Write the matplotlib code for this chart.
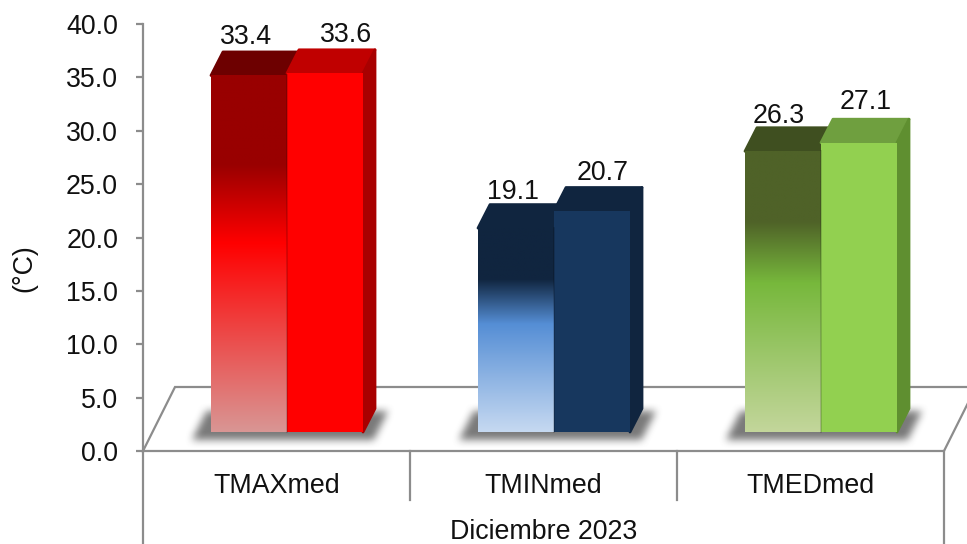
import numpy as np
import matplotlib.pyplot as plt
from matplotlib.colors import to_rgb
from matplotlib.patches import Polygon

plt.rcParams['font.family'] = ['Liberation Sans', 'DejaVu Sans']

categories = ['TMAXmed', 'TMINmed', 'TMEDmed']
group_label = 'Diciembre 2023'
values_a = [33.4, 19.1, 26.3]
values_b = [33.6, 20.7, 27.1]
yticks = [0, 5, 10, 15, 20, 25, 30, 35, 40]

# colores: inicio, medio, final del degradado de la barra izquierda
grad_colors = [('#990000', '#ff0000', '#d99694'),
               ('#10253f', '#558ed5', '#c6d9f1'),
               ('#4f6228', '#77b83c', '#c3d69b')]
top_a = ['#6d0000', '#10253f', '#3f4f20']
solid_b = ['#ff0000', '#17375e', '#92d050']
top_b = ['#c00000', '#10253f', '#6f9f3f']
side_b = ['#a80000', '#10253f', '#5f8f30']

# desplazamiento de etiquetas respecto a cada barra (px)
label_dx_a = [-3, -3, -4]
label_dx_b = [21, 11, 7]
label_dy_a = [38, 36, 35]
label_dy_b = [38, 38, 41]

fig = plt.figure(figsize=(9.67, 5.44), dpi=100)
ax = fig.add_axes([143 / 967, (544 - 451) / 544, 801 / 967, 427 / 544])
ax.set_facecolor('none')

px_x = 3 / 801
px_y = 40 / 427
pt = 0.72
gray = '#8c8c8c'
text_color = '#111111'
fs = 19.3

# suelo 3D
floor_dx = 32 * px_x
floor_dy = 64 * px_y
ax.add_patch(Polygon([(0, 0), (floor_dx, floor_dy), (3 + floor_dx, floor_dy), (3, 0)],
                     closed=True, fc='white', ec=gray, lw=1.6, clip_on=False, zorder=1))

base = 19 * px_y
bar_w = 76 * px_x
depth_x = 12 * px_x
depth_y = 23.5 * px_y


def gradient_image(colors):
    stops = [0, 0.25, 0.47, 1]
    c0, c1, c2 = [to_rgb(c) for c in colors]
    rows = np.linspace(0, 1, 256)
    img = np.zeros((256, 1, 3))
    for k in range(3):
        img[:, 0, k] = np.interp(rows, stops, [c0[k], c0[k], c1[k], c2[k]])
    return img


def shadow_image():
    # sombra difusa bajo cada grupo de barras
    w, h = 220, 60
    yy, xx = np.mgrid[0:h, 0:w]
    left = 14 + (h - 18 - yy) * 0.5
    mask = ((yy > 12) & (yy < h - 18) & (xx > left) & (xx < left + 182)).astype(float)
    kernel = np.ones(9) / 9
    for _ in range(2):
        mask = np.apply_along_axis(lambda r: np.convolve(r, kernel, 'same'), 0, mask)
        mask = np.apply_along_axis(lambda r: np.convolve(r, kernel, 'same'), 1, mask)
    img = np.zeros((h, w, 4))
    img[..., :3] = 0.42
    img[..., 3] = mask * 0.9
    return img


for i, cat in enumerate(categories):
    center = i + 0.5 + 10.5 * px_x
    left_a = center - bar_w
    left_b = center
    va = values_a[i]
    vb = values_b[i]

    ax.imshow(shadow_image(), extent=[center - 110 * px_x, center + 110 * px_x,
                                      base - 26 * px_y, base + 34 * px_y],
              aspect='auto', zorder=2, clip_on=False, interpolation='bilinear')

    # barra izquierda con degradado
    ax.add_patch(Polygon([(left_a, base + va), (left_a + depth_x, base + va + depth_y),
                          (left_a + bar_w + depth_x, base + va + depth_y),
                          (left_a + bar_w, base + va)],
                         closed=True, fc=top_a[i], ec=top_a[i], lw=2, joinstyle='round',
                         clip_on=False, zorder=3))
    ax.imshow(gradient_image(grad_colors[i]), extent=[left_a, left_a + bar_w, base, base + va],
              aspect='auto', zorder=4, clip_on=False, interpolation='bilinear')

    # barra derecha
    ax.add_patch(Polygon([(left_b, base + vb), (left_b + depth_x, base + vb + depth_y),
                          (left_b + bar_w + depth_x, base + vb + depth_y),
                          (left_b + bar_w, base + vb)],
                         closed=True, fc=top_b[i], ec=top_b[i], lw=2, joinstyle='round',
                         clip_on=False, zorder=5))
    ax.add_patch(Polygon([(left_b + bar_w, base), (left_b + bar_w + depth_x, base + depth_y),
                          (left_b + bar_w + depth_x, base + vb + depth_y),
                          (left_b + bar_w, base + vb)],
                         closed=True, fc=side_b[i], ec=side_b[i], lw=2, joinstyle='round',
                         clip_on=False, zorder=5))
    ax.bar(left_b, vb, width=bar_w, bottom=base, align='edge', color=solid_b[i],
           linewidth=0, zorder=6, clip_on=False)
    ax.plot([left_b, left_b], [base, base + va], color='#000000', alpha=0.18, lw=1.2, zorder=7)

    ax.annotate(f'{va:.1f}', (left_a + bar_w / 2, base + va),
                xytext=(label_dx_a[i] * pt, label_dy_a[i] * pt),
                textcoords='offset points', ha='center', va='center', fontsize=fs,
                color=text_color, zorder=8)
    ax.annotate(f'{vb:.1f}', (left_b + bar_w / 2, base + vb),
                xytext=(label_dx_b[i] * pt, label_dy_b[i] * pt),
                textcoords='offset points', ha='center', va='center', fontsize=fs,
                color=text_color, zorder=8)

ax.set_yticks(yticks)
ax.set_yticklabels([f'{t:.1f}' for t in yticks], fontsize=fs, color=text_color)
ax.set_xticks([])
ax.tick_params(axis='y', length=5, width=1.6, color=gray, pad=13)
for name, spine in ax.spines.items():
    spine.set_visible(name == 'left')
ax.spines['left'].set_color(gray)
ax.spines['left'].set_linewidth(1.6)
ax.set_ylabel('(°C)', fontsize=fs, color=text_color)
ax.yaxis.set_label_coords((37 - 143) / 801, (451 - 268) / 427)

# ejes multinivel de categorias
for x, y_end in [(0, -93), (1, -49), (2, -49), (3, -93)]:
    ax.plot([x, x], [0, y_end * px_y], color=gray, lw=1.6, clip_on=False, zorder=1)
for i, cat in enumerate(categories):
    ax.text(i + 0.5, -35 * px_y, cat, ha='center', va='center', fontsize=fs, color=text_color)
ax.text(1.5, -81 * px_y, group_label, ha='center', va='center', fontsize=fs, color=text_color)

ax.set_xlim(0, 3)
ax.set_ylim(0, 40)
fig.savefig('out.png', dpi=100)
